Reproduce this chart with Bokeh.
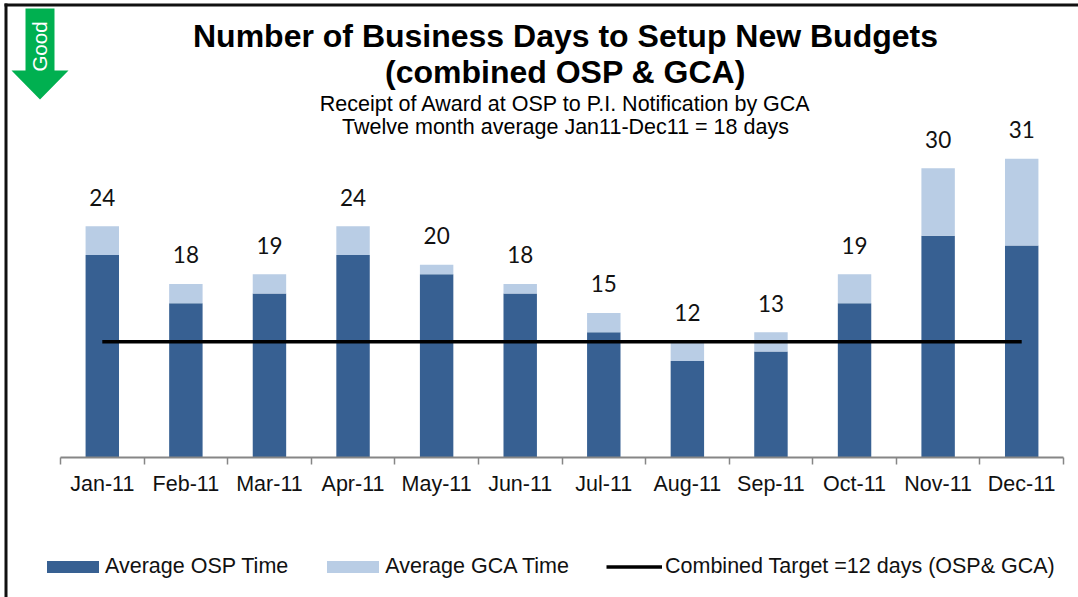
from bokeh.plotting import figure
from bokeh.models import (Range1d, FixedTicker, Label, PolyAnnotation, Legend, LegendItem,
                          ColumnDataSource)
from bokeh.core.properties import value
from bokeh.embed import file_html
from bokeh.resources import INLINE

months = ["Jan-11", "Feb-11", "Mar-11", "Apr-11", "May-11", "Jun-11",
          "Jul-11", "Aug-11", "Sep-11", "Oct-11", "Nov-11", "Dec-11"]
osp_time = [21, 16, 17, 21, 19, 17, 13, 10, 11, 16, 23, 22]
gca_time = [3, 2, 2, 3, 1, 1, 2, 2, 2, 3, 7, 9]
target = [12] * 12
title_lines = ["Number of Business Days to Setup New Budgets", "(combined OSP & GCA)"]
subtitle_lines = ["Receipt of Award at OSP to P.I. Notification by GCA",
                  "Twelve month average Jan11-Dec11 = 18 days"]

WIDTH, HEIGHT = 1078, 597
AXIS_Y = 457
LEFT, RIGHT_EDGE = 60, 1063
PX_PER_DAY = 9.64
PX_PER_MONTH = (RIGHT_EDGE - LEFT) / len(months)
ARIAL = "Liberation Sans"

x = [i + 0.5 for i in range(len(months))]
totals = [a + b for a, b in zip(osp_time, gca_time)]
source = ColumnDataSource(dict(x=x, osp=osp_time, total=totals, target=target,
                               label=[str(t) for t in totals]))

p = figure(width=WIDTH, height=HEIGHT, output_backend="svg", toolbar_location=None,
           x_range=Range1d(-LEFT / PX_PER_MONTH, (WIDTH - LEFT) / PX_PER_MONTH),
           y_range=Range1d(-(HEIGHT - AXIS_Y) / PX_PER_DAY, AXIS_Y / PX_PER_DAY),
           min_border=0, outline_line_color=None, background_fill_color="white",
           margin=0)
p.grid.visible = False
p.yaxis.visible = False

ax = p.xaxis[0]
ax.fixed_location = 0
ax.bounds = (0, len(months))
ax.ticker = FixedTicker(ticks=x, minor_ticks=list(range(len(months) + 1)))
ax.major_label_overrides = {v: m for v, m in zip(x, months)}
ax.major_tick_in = 0
ax.major_tick_out = 0
ax.minor_tick_in = 0
ax.minor_tick_out = 7
ax.minor_tick_line_color = "#868686"
ax.minor_tick_line_width = 1.5
ax.axis_line_color = "#868686"
ax.axis_line_width = 2
ax.major_label_standoff = 7
ax.major_label_text_font = ARIAL
ax.major_label_text_font_size = "21.5px"
ax.major_label_text_color = "#111111"

r1 = p.vbar(x="x", bottom=0, top="osp", width=0.4, source=source,
            fill_color="#376092", line_color=None)
r2 = p.vbar(x="x", bottom="osp", top="total", width=0.4, source=source,
            fill_color="#B9CDE5", line_color=None)
r3 = p.line(x="x", y="target", source=source, line_color="black", line_width=3.5)
p.text(x="x", y="total", text="label", source=source, y_offset=-29,
       text_align="center", text_baseline="middle",
       text_font=value("Lato"), text_font_size="22.5px", text_color="#111111")

legend_style = dict(orientation="horizontal", border_line_color=None, background_fill_alpha=0,
                    margin=0, padding=0, label_text_font=ARIAL, label_text_font_size="21.5px",
                    label_text_color="#111111", label_height=24)
p.add_layout(Legend(items=[LegendItem(label="Average OSP Time", renderers=[r1]),
                           LegendItem(label="Average GCA Time", renderers=[r2])],
                    location=(40, HEIGHT - 567 - 12), spacing=32,
                    glyph_width=65, glyph_height=15, label_standoff=-2, **legend_style), "center")
p.add_layout(Legend(items=[LegendItem(label="Combined Target =12 days (OSP& GCA)", renderers=[r3])],
                    location=(606, HEIGHT - 567 - 12),
                    glyph_width=56, glyph_height=15, label_standoff=3, **legend_style), "center")


def screen_label(text, sx, sy, size, bold=False, color="#000000", angle=0):
    p.add_layout(Label(x=sx, y=HEIGHT - sy, x_units="screen", y_units="screen", text=text,
                       text_font=ARIAL, text_font_size=size, text_color=color,
                       text_font_style="bold" if bold else "normal",
                       text_align="center", text_baseline="middle", angle=angle,
                       angle_units="deg"))


for line, sy in zip(title_lines, (35, 71)):
    screen_label(line, 565, sy, "32px", bold=True)
for line, sy in zip(subtitle_lines, (103, 126)):
    screen_label(line, 565, sy, "21.5px")


def poly(xs, ys, color):
    p.add_layout(PolyAnnotation(xs=xs, ys=[HEIGHT - v for v in ys], xs_units="screen",
                                ys_units="screen", fill_color=color, fill_alpha=1,
                                line_color=None))


poly([25, 54, 54, 68, 39.5, 11, 25], [8, 8, 70, 70, 99, 70, 70], "#00B050")
screen_label("Good", 39, 46, "20.5px", color="white", angle=90)
poly([4, WIDTH, WIDTH, 4], [3, 3, 6, 6], "#111111")
poly([4, 7, 7, 4], [3, 3, HEIGHT, HEIGHT], "#111111")

open("out.html", "w").write(file_html(p, INLINE))
